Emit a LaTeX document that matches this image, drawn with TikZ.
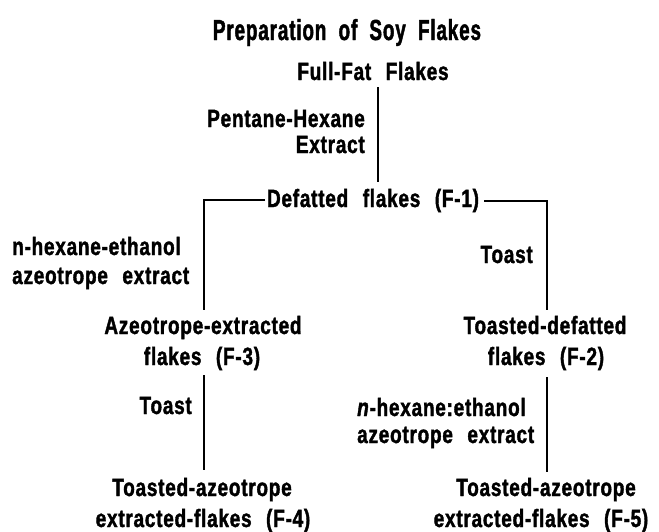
\documentclass[tikz,border=0pt]{standalone}
\usepackage{fontspec}
\newfontfamily\bodyfont[FakeStretch=0.76,WordSpace=2.4,LetterSpace=3,FakeBold=1.5]{Liberation Sans}
\newfontfamily\titlefont[FakeStretch=0.65,WordSpace=2,LetterSpace=3,FakeBold=1.5]{Liberation Sans}
\begin{document}
\begin{tikzpicture}[x=1pt,y=-1pt,
  txt/.style={font=\bodyfont\bfseries\fontsize{25}{30}\selectfont, inner sep=0pt, anchor=base},
  ttl/.style={font=\titlefont\bfseries\fontsize{29}{34}\selectfont, inner sep=0pt, anchor=base},
  conn/.style={line width=2.2pt, line join=miter}]
\useasboundingbox (0,0) rectangle (659,531);
% texts
\node[ttl] (title) at (347,40) {Preparation of Soy Flakes};
\node[txt] (ff) at (373,80) {Full-Fat Flakes};
\node[txt,anchor=base east] (ph1) at (365,127) {Pentane-Hexane};
\node[txt,anchor=base east] (ph2) at (365,153) {Extract};
\node[txt] (f1) at (373,207) {Defatted flakes (F-1)};
\node[txt,anchor=base west] (az1a) at (12,255) {n-hexane-ethanol};
\node[txt,anchor=base west] (az1b) at (12,284) {azeotrope extract};
\node[txt,anchor=base east] (t1) at (533,263) {Toast};
\node[txt] (f3a) at (203,334) {Azeotrope-extracted};
\node[txt] (f3b) at (202,365) {flakes (F-3)};
\node[txt] (f2a) at (545,334) {Toasted-defatted};
\node[txt] (f2b) at (546,365) {flakes (F-2)};
\node[txt,anchor=base east] (t2) at (192,414) {Toast};
\node[txt,anchor=base west] (az2a) at (357,416) {\textit{n}-hexane:ethanol};
\node[txt,anchor=base west] (az2b) at (357,443) {azeotrope extract};
\node[txt] (f4a) at (202,496) {Toasted-azeotrope};
\node[txt] (f4b) at (203,527) {extracted-flakes (F-4)};
\node[txt] (f5a) at (546,496) {Toasted-azeotrope};
\node[txt] (f5b) at (541,527) {extracted-flakes (F-5)};
% junction coordinates
\coordinate (a0) at (378,87);
\coordinate (a1) at (378,182);
\coordinate (b0) at (265,200);
\coordinate (b1) at (204,310);
\coordinate (c0) at (484,201);
\coordinate (c1) at (547,310);
\coordinate (d0) at (204,375);
\coordinate (d1) at (204,470);
\coordinate (e0) at (547,377);
\coordinate (e1) at (547,472);
% connectors
\draw[conn] (a0) -- (a1);
\draw[conn] (b0) -| (b1);
\draw[conn] (c0) -| (c1);
\draw[conn] (d0) -- (d1);
\draw[conn] (e0) -- (e1);
\end{tikzpicture}
\end{document}
